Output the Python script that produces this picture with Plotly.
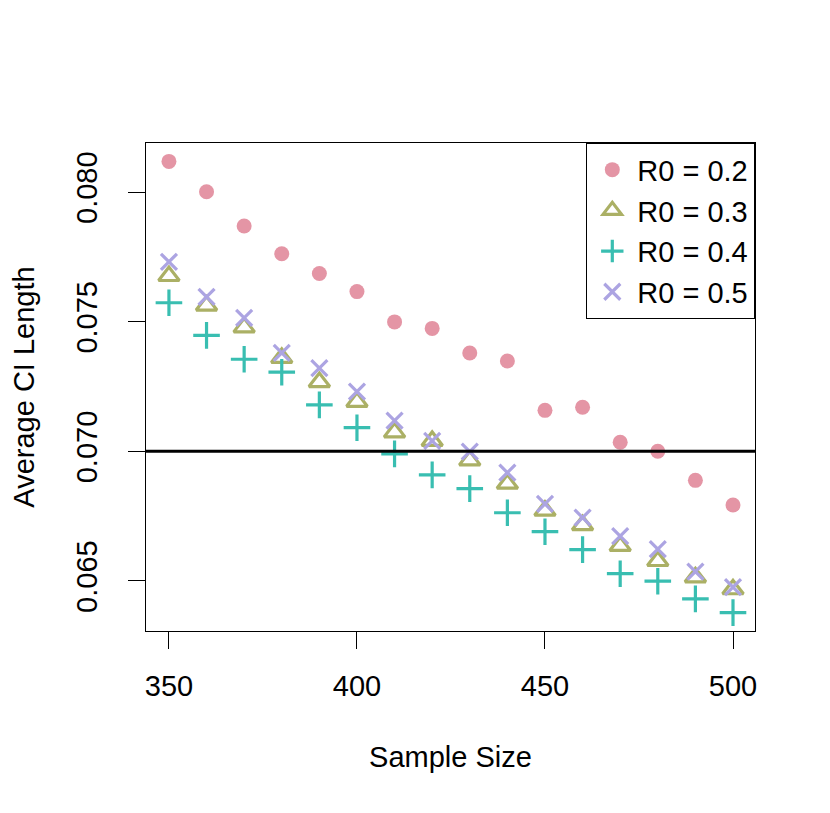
import plotly.graph_objects as go

# sample sizes on the x axis
sample_size = [350, 360, 370, 380, 390, 400, 410, 420, 430, 440,
               450, 460, 470, 480, 490, 500]

# average CI length per R0 setting
ci_r02 = [0.08118, 0.08001, 0.07869, 0.07762, 0.07686, 0.07616, 0.07499, 0.07474,
          0.07379, 0.07348, 0.07158, 0.07170, 0.07035, 0.07000, 0.06888, 0.06793]
ci_r03 = [0.07676, 0.07562, 0.07478, 0.07360, 0.07267, 0.07191, 0.07073, 0.07040,
          0.06965, 0.06875, 0.06771, 0.06715, 0.06635, 0.06577, 0.06514, 0.06468]
ci_r04 = [0.07573, 0.07447, 0.07355, 0.07305, 0.07179, 0.07091, 0.06990, 0.06909,
          0.06856, 0.06763, 0.06690, 0.06621, 0.06528, 0.06499, 0.06431, 0.06378]
ci_r05 = [0.07731, 0.07596, 0.07515, 0.07380, 0.07321, 0.07230, 0.07118, 0.07040,
          0.06999, 0.06918, 0.06797, 0.06744, 0.06673, 0.06623, 0.06536, 0.06476]

series_names = ["R0 = 0.2", "R0 = 0.3", "R0 = 0.4", "R0 = 0.5"]
target_length = 0.070

x_ticks = [350, 400, 450, 500]
y_ticks = [0.065, 0.070, 0.075, 0.080]

# rainbow_hcl(4) colours
colors = ["#E495A5", "#ABB065", "#39BEB1", "#ACA4E2"]
symbols = ["circle", "triangle-up-open", "cross-thin-open", "x-thin-open"]
sizes = [15, 18, 19, 16]

FONT = "Liberation Sans, Arial, Helvetica, sans-serif"
FS = 29

fig = go.Figure()

for name, vals, col, sym, sz in zip(series_names, [ci_r02, ci_r03, ci_r04, ci_r05],
                                    colors, symbols, sizes):
    if sym == "circle":
        marker = dict(symbol=sym, size=sz, color=col, line=dict(width=0))
    else:
        marker = dict(symbol=sym, size=sz, color=col, line=dict(color=col, width=3.2))
    fig.add_trace(go.Scatter(x=sample_size, y=vals, mode="markers", name=name,
                             marker=marker))

# reference line
fig.add_hline(y=target_length, line=dict(color="black", width=3))

axis_common = dict(
    showline=True, linecolor="black", linewidth=1.3, mirror=True,
    ticks="outside", ticklen=17, tickwidth=1.3, tickcolor="black",
    showgrid=False, zeroline=False,
    tickfont=dict(family=FONT, size=FS, color="black"),
)

fig.update_layout(
    width=830, height=813,
    margin=dict(l=138, r=83, t=135, b=190),
    plot_bgcolor="white", paper_bgcolor="white",
    font=dict(family=FONT, size=FS, color="black"),
    showlegend=True,
    legend=dict(
        x=1, y=1, xanchor="right", yanchor="top",
        bordercolor="black", borderwidth=1.3, bgcolor="white",
        font=dict(family=FONT, size=FS, color="black"),
        itemwidth=40, tracegroupgap=0,
    ),
    xaxis=dict(
        range=[343.9, 505.85], tickvals=x_ticks, ticklabelstandoff=12,
        title=dict(text="Sample Size", standoff=45,
                   font=dict(family=FONT, size=FS)),
        **axis_common,
    ),
    yaxis=dict(
        range=[0.06307, 0.08189], tickvals=y_ticks, tickformat=".3f",
        tickangle=-90, ticklabelstandoff=19,
        title=dict(text="Average CI Length", standoff=31,
                   font=dict(family=FONT, size=FS)),
        **axis_common,
    ),
)

fig.write_html("out.html")
